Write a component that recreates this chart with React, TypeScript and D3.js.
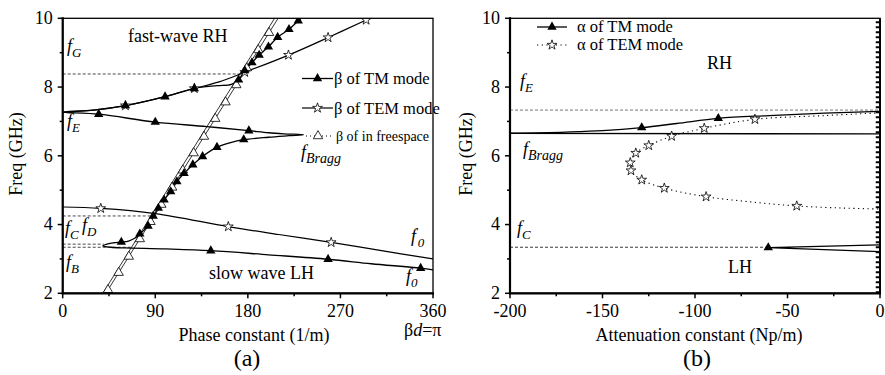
import React from "react";
import * as d3 from "d3";

const W = 885;
const H = 375;
const FONT = "'Liberation Serif', 'Times New Roman', serif";

// ---- panel (a): phase constant vs frequency ----
const tmBeta = [360, 348, 300, 258, 200, 144, 100, 60, 47, 39, 44, 50, 57, 64, 70, 75, 83, 88, 93, 98.6, 105, 111, 118, 126.5, 136, 150, 165, 176, 200, 220, 234, 215, 200, 181, 140, 90, 35, 0, 30, 61, 99.5, 128, 150, 164, 171, 177, 184, 191, 200, 209, 220, 229, 232];
const tmFreq = [2.68, 2.73, 2.86, 2.99, 3.12, 3.24, 3.29, 3.32, 3.34, 3.38, 3.44, 3.47, 3.49, 3.52, 3.6, 3.73, 3.96, 4.25, 4.48, 4.72, 4.96, 5.25, 5.49, 5.74, 5.98, 6.25, 6.4, 6.47, 6.54, 6.585, 6.615, 6.64, 6.67, 6.73, 6.85, 6.98, 7.21, 7.27, 7.33, 7.46, 7.72, 7.96, 8.04, 8.08, 8.21, 8.48, 8.71, 8.93, 9.17, 9.45, 9.68, 9.93, 10.0];
const tmMarkBeta = [348, 258, 144, 57, 75, 83, 88, 93, 98.6, 105, 111, 118, 126.5, 136, 150, 176, 181, 90, 35, 61, 99.5, 128, 171, 177, 184, 191, 200, 209, 220, 229];
const tmMarkFreq = [2.73, 2.99, 3.24, 3.49, 3.73, 3.96, 4.25, 4.48, 4.72, 4.96, 5.25, 5.49, 5.74, 5.98, 6.25, 6.47, 6.73, 6.98, 7.21, 7.46, 7.72, 7.96, 8.21, 8.48, 8.71, 8.93, 9.17, 9.45, 9.68, 9.93];

const temLhBeta = [0, 37, 90, 161, 210, 261, 310, 360];
const temLhFreq = [4.51, 4.47, 4.32, 3.94, 3.71, 3.48, 3.24, 3.0];
const temLhMarkBeta = [37, 161, 261];
const temLhMarkFreq = [4.47, 3.94, 3.48];
const temRhBeta = [0, 30, 61, 99.5, 128, 152, 177, 219.5, 258, 295, 298.6];
const temRhFreq = [7.27, 7.33, 7.46, 7.72, 7.96, 8.15, 8.43, 8.93, 9.44, 9.95, 10.0];
const temRhMarkBeta = [61, 128, 177, 219.5, 258, 295];
const temRhMarkFreq = [7.46, 7.96, 8.43, 8.93, 9.44, 9.95];

const fsBeta = [41.9, 209.4];
const fsFreq = [2, 10];
const fs2Beta = [39, 206];
const fs2Freq = [2, 10];
const fsMarkBeta = [44, 54.4, 64.3, 75, 85.4, 95.9, 106.4, 116.8, 127.3, 137.4, 148.3, 158.3, 168.8, 179, 190.1, 200.6];
const fsMarkFreq = [2.1, 2.6, 3.07, 3.58, 4.08, 4.58, 5.08, 5.58, 6.08, 6.56, 7.08, 7.56, 8.06, 8.55, 9.08, 9.58];

// dashed reference levels in (a): [freq, beta end]
const dashA = [[8.38, 176], [4.25, 86], [3.43, 40], [3.34, 68]];

// ---- panel (b): attenuation constant vs frequency ----
const tmAlphaUpA = [-200, -170, -150, -128.8, -110, -87.4, -60, -30, 0];
const tmAlphaUpF = [6.66, 6.69, 6.73, 6.82, 6.94, 7.09, 7.17, 7.24, 7.29];
const tmAlphaBraggA = [-200, 0];
const tmAlphaBraggF = [6.655, 6.635];
const tmAlphaLowA = [0, -60.4, 0];
const tmAlphaLowF = [3.41, 3.33, 3.21];
const tmAlphaMarkA = [-128.8, -87.4, -60.4];
const tmAlphaMarkF = [6.82, 7.09, 3.33];
const tmAlphaZeroA = [0, 0];
const tmAlphaZeroF = [2, 10];

const temAlphaA = [0, -30, -67.6, -95, -112.6, -125, -132, -135, -134.6, -128.8, -116.6, -94, -70, -45, -20, 0];
const temAlphaF = [7.25, 7.17, 7.06, 6.8, 6.57, 6.3, 6.08, 5.8, 5.57, 5.3, 5.06, 4.81, 4.66, 4.54, 4.48, 4.45];
const temAlphaMarkA = [-67.6, -95, -112.6, -125, -132, -135, -134.6, -128.8, -116.6, -94, -45];
const temAlphaMarkF = [7.06, 6.8, 6.57, 6.3, 6.08, 5.8, 5.57, 5.3, 5.06, 4.81, 4.54];

const dashB = [[7.33, 0], [3.34, -61]];

const yTicks = [2, 4, 6, 8, 10];
const yMinor = [3, 5, 7, 9];
const xATicks = [0, 90, 180, 270, 360];
const xAMinor = [45, 135, 225, 315];
const xBTicks = [-200, -150, -100, -50, 0];
const xBMinor = [-175, -125, -75, -25];

const zip = (a: number[], b: number[]) => a.map((v, i) => [v, b[i]] as [number, number]);

const triPath = d3.symbol(d3.symbolTriangle, 38)() as string;
const starPath = d3.symbol(d3.symbolStar, 30)() as string;

function Sub({ x, y, main, sub, size = 18, subSize = 13, prime = false }: any) {
  return (
    <text x={x} y={y} fontFamily={FONT} fontStyle="italic" fontSize={size}>
      {main}
      {prime ? <tspan dy={-7} fontSize={10} fontStyle="normal">'</tspan> : null}
      <tspan dy={prime ? 12 : 5} fontSize={subSize}>{sub}</tspan>
    </text>
  );
}

export default function App() {
  const xA = d3.scaleLinear().domain([0, 360]).range([62.7, 433]);
  const xB = d3.scaleLinear().domain([-200, 0]).range([510, 880]);
  const y = d3.scaleLinear().domain([2, 10]).range([293.3, 18.3]);
  const y0 = y(2);
  const y1 = y(10);

  const lineA = d3.line<[number, number]>().x(d => xA(d[0])).y(d => y(d[1])).curve(d3.curveCatmullRom.alpha(0.5));
  const linA = d3.line<[number, number]>().x(d => xA(d[0])).y(d => y(d[1]));
  const lineB = d3.line<[number, number]>().x(d => xB(d[0])).y(d => y(d[1])).curve(d3.curveCatmullRom.alpha(0.5));
  const monoB = d3.line<[number, number]>().x(d => xB(d[0])).y(d => y(d[1])).curve(d3.curveMonotoneX);
  const linB = d3.line<[number, number]>().x(d => xB(d[0])).y(d => y(d[1]));

  const tick = { stroke: "#000", strokeWidth: 1.5 };

  const axes = (x: any, ticks: number[], minor: number[]) => {
    const [xl, xr] = x.range();
    return (
      <g>
        <rect x={xl} y={y1} width={xr - xl} height={y0 - y1} fill="none" stroke="#000" strokeWidth={1.3} />
        <line x1={xl} x2={xl} y1={y1 - 1} y2={y0 + 1} stroke="#000" strokeWidth={2.2} />
        <line x1={xl - 1} x2={xr + 1} y1={y0} y2={y0} stroke="#000" strokeWidth={2.2} />
        {yTicks.map(t => (
          <g key={"y" + t}>
            <line x1={xl - 5} x2={xl} y1={y(t)} y2={y(t)} {...tick} />
            <text x={xl - 10} y={y(t)} dy="0.33em" textAnchor="end" fontFamily={FONT} fontSize={18}>{t}</text>
          </g>
        ))}
        {yMinor.map(t => <line key={"ym" + t} x1={xl - 3} x2={xl} y1={y(t)} y2={y(t)} {...tick} />)}
        {ticks.map(t => (
          <g key={"x" + t}>
            <line x1={x(t)} x2={x(t)} y1={y0} y2={y0 + 5} {...tick} />
            <text x={x(t)} y={317} textAnchor="middle" fontFamily={FONT} fontSize={18}>{t}</text>
          </g>
        ))}
        {minor.map(t => <line key={"xm" + t} x1={x(t)} x2={x(t)} y1={y0} y2={y0 + 3} {...tick} />)}
      </g>
    );
  };

  return (
    <svg width={W} height={H} style={{ position: "absolute", left: 0, top: 0, background: "#fff" }}>
      <defs>
        <clipPath id="clipA"><rect x={xA(0)} y={y1} width={xA(360) - xA(0)} height={y0 - y1} /></clipPath>
        <clipPath id="clipB"><rect x={xB(-200)} y={y1} width={xB(0) - xB(-200)} height={y0 - y1} /></clipPath>
      </defs>

      {/* ===== panel (a) ===== */}
      <g clipPath="url(#clipA)">
        {dashA.map(([f, b], i) => (
          <line key={i} x1={xA(0)} x2={xA(b)} y1={y(f)} y2={y(f)} stroke="#333" strokeWidth={0.9} strokeDasharray="3,2" />
        ))}
        <path d={linA(zip(fsBeta, fsFreq)) as string} fill="none" stroke="#000" strokeWidth={0.8} />
        <path d={linA(zip(fs2Beta, fs2Freq)) as string} fill="none" stroke="#000" strokeWidth={0.8} />
        <path d={lineA(zip(temLhBeta, temLhFreq)) as string} fill="none" stroke="#000" strokeWidth={1.2} />
        <path d={lineA(zip(temRhBeta, temRhFreq)) as string} fill="none" stroke="#000" strokeWidth={1.2} />
        <path d={lineA(zip(tmBeta, tmFreq)) as string} fill="none" stroke="#000" strokeWidth={1.3} />
        {zip(fsMarkBeta, fsMarkFreq).map((d, i) => (
          <path key={"fs" + i} d={triPath} transform={`translate(${xA(d[0])},${y(d[1])})`} fill="#fff" stroke="#000" strokeWidth={0.8} />
        ))}
        {zip(temLhMarkBeta, temLhMarkFreq).concat(zip(temRhMarkBeta, temRhMarkFreq)).map((d, i) => (
          <path key={"tem" + i} d={starPath} transform={`translate(${xA(d[0])},${y(d[1])})`} fill="#fff" stroke="#000" strokeWidth={0.8} />
        ))}
        {zip(tmMarkBeta, tmMarkFreq).map((d, i) => (
          <path key={"tm" + i} d={triPath} transform={`translate(${xA(d[0])},${y(d[1])})`} fill="#000" />
        ))}
      </g>
      {axes(xA, xATicks, xAMinor)}

      <text x={128} y={41.5} fontFamily={FONT} fontSize={18}>fast-wave RH</text>
      <text x={209} y={279} fontFamily={FONT} fontSize={18}>slow wave LH</text>
      <Sub x={67} y={52} main="f" sub="G" />
      <Sub x={67} y={127} main="f" sub="E" />
      <Sub x={301} y={158} main="f" sub="Bragg" subSize={14} />
      <Sub x={65} y={234} main="f" sub="C" />
      <Sub x={82} y={231} main="f" sub="D" />
      <Sub x={66} y={268} main="f" sub="B" />
      <Sub x={411} y={242} main="f" sub="0" prime />
      <Sub x={406} y={282} main="f" sub="0" />

      {/* legend (a) */}
      <line x1={302} x2={333} y1={78.5} y2={78.5} stroke="#000" strokeWidth={1.3} />
      <path d={triPath} transform={`translate(317.5,78.5)`} fill="#000" />
      <text x={334} y={84} fontFamily={FONT} fontSize={16.5}>β of TM mode</text>
      <line x1={302} x2={333} y1={108} y2={108} stroke="#000" strokeWidth={1.2} />
      <path d={starPath} transform={`translate(317.5,108)`} fill="#fff" stroke="#000" strokeWidth={0.8} />
      <text x={334} y={113.5} fontFamily={FONT} fontSize={16.5}>β of TEM mode</text>
      <line x1={306} x2={333} y1={136} y2={136} stroke="#000" strokeWidth={1} strokeDasharray="1,3" />
      <path d={triPath} transform={`translate(318,136)`} fill="#fff" stroke="#000" strokeWidth={0.8} />
      <text x={336} y={141} fontFamily={FONT} fontSize={14}>β of in freespace</text>

      <text x={254} y={341} textAnchor="middle" fontFamily={FONT} fontSize={18}>Phase constant (1/m)</text>
      <text x={404} y={336} fontFamily={FONT} fontSize={18}>β<tspan fontStyle="italic">d</tspan>=π</text>
      <text x={247} y={366} textAnchor="middle" fontFamily={FONT} fontSize={24}>(a)</text>
      <text transform={`translate(22,154) rotate(-90)`} textAnchor="middle" fontFamily={FONT} fontSize={18}>Freq (GHz)</text>

      {/* ===== panel (b) ===== */}
      <g clipPath="url(#clipB)">
        {dashB.map(([f, a], i) => (
          <line key={i} x1={xB(-200)} x2={xB(a)} y1={y(f)} y2={y(f)} stroke={i === 0 ? "#666" : "#222"} strokeWidth={0.9} strokeDasharray="3,2" />
        ))}
        <path d={lineB(zip(temAlphaA, temAlphaF)) as string} fill="none" stroke="#000" strokeWidth={1.1} strokeDasharray="1.2,3.5" />
        <path d={monoB(zip(tmAlphaUpA, tmAlphaUpF)) as string} fill="none" stroke="#000" strokeWidth={1.3} />
        <path d={linB(zip(tmAlphaBraggA, tmAlphaBraggF)) as string} fill="none" stroke="#000" strokeWidth={1.3} />
        <path d={linB(zip(tmAlphaLowA, tmAlphaLowF)) as string} fill="none" stroke="#000" strokeWidth={1.3} />
        {zip(temAlphaMarkA, temAlphaMarkF).map((d, i) => (
          <path key={"ta" + i} d={starPath} transform={`translate(${xB(d[0])},${y(d[1])})`} fill="#fff" stroke="#000" strokeWidth={0.8} />
        ))}
        {zip(tmAlphaMarkA, tmAlphaMarkF).map((d, i) => (
          <path key={"ma" + i} d={triPath} transform={`translate(${xB(d[0])},${y(d[1])})`} fill="#000" />
        ))}
      </g>
      {axes(xB, xBTicks, xBMinor)}
      <path d={linB(zip(tmAlphaZeroA, tmAlphaZeroF)) as string} fill="none" stroke="#000" strokeWidth={2} />
      <path d={linB(zip(tmAlphaZeroA, tmAlphaZeroF)) as string} transform="translate(-2,0)" fill="none" stroke="#000" strokeWidth={4.5} strokeDasharray="2,3" />

      <text x={707} y={68.5} fontFamily={FONT} fontSize={18}>RH</text>
      <text x={728} y={272.5} fontFamily={FONT} fontSize={18}>LH</text>
      <Sub x={520} y={87} main="f" sub="E" />
      <Sub x={523} y={155} main="f" sub="Bragg" subSize={14} />
      <Sub x={517} y={234} main="f" sub="C" />

      {/* legend (b) */}
      <line x1={537} x2={567} y1={27} y2={27} stroke="#000" strokeWidth={1.3} />
      <path d={triPath} transform={`translate(552,27)`} fill="#000" />
      <text x={577} y={32} fontFamily={FONT} fontSize={16.5}>α of TM mode</text>
      <line x1={537} x2={567} y1={45} y2={45} stroke="#000" strokeWidth={1.1} strokeDasharray="1.2,3.5" />
      <path d={starPath} transform={`translate(552,45)`} fill="#fff" stroke="#000" strokeWidth={0.8} />
      <text x={577} y={50} fontFamily={FONT} fontSize={16.5}>α of TEM mode</text>

      <text x={699} y={341} textAnchor="middle" fontFamily={FONT} fontSize={18}>Attenuation constant (Np/m)</text>
      <text x={697} y={366} textAnchor="middle" fontFamily={FONT} fontSize={24}>(b)</text>
      <text transform={`translate(472,154) rotate(-90)`} textAnchor="middle" fontFamily={FONT} fontSize={18}>Freq (GHz)</text>
    </svg>
  );
}
